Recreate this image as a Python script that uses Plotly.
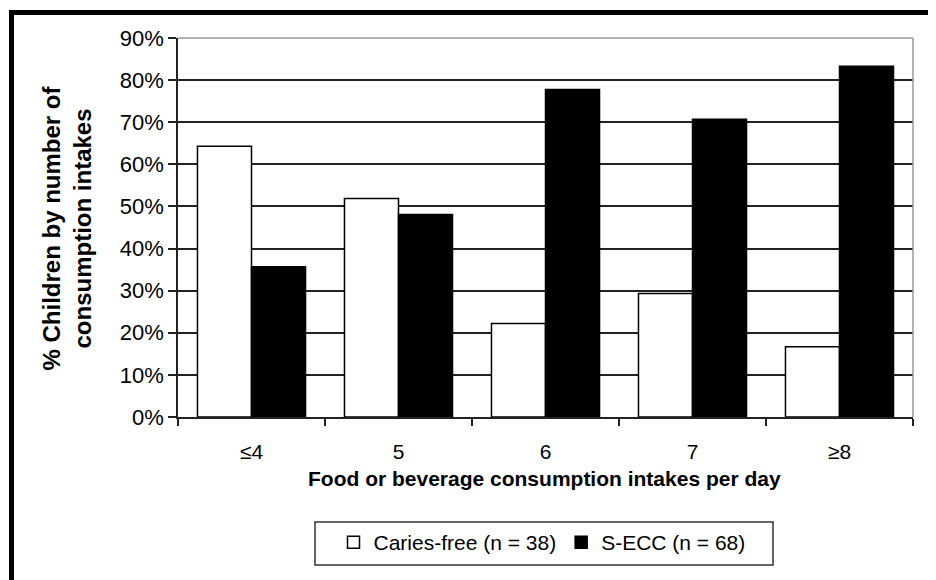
import plotly.graph_objects as go

categories = ["≤4", "5", "6", "7", "≥8"]
caries_free = [64.3, 51.9, 22.2, 29.3, 16.7]
s_ecc = [35.7, 48.1, 77.8, 70.7, 83.3]
series_names = ["Caries-free (n = 38)", "S-ECC (n = 68)"]
y_ticks = [0, 10, 20, 30, 40, 50, 60, 70, 80, 90]
y_tick_labels = [f"{v}%" for v in y_ticks]
x_title = "Food or beverage consumption intakes per day"
y_title = "% Children by number of<br>consumption intakes"

FONT = "Liberation Sans, Arial, Helvetica, sans-serif"

fig = go.Figure()
fig.add_trace(go.Bar(
    x=categories, y=caries_free, name=series_names[0],
    marker=dict(color="white", line=dict(color="black", width=1.5)),
))
fig.add_trace(go.Bar(
    x=categories, y=s_ecc, name=series_names[1],
    marker=dict(color="black", line=dict(color="black", width=1.5)),
))

# page has an 8px body margin; figure is placed at (8, 8)
W, H = 928, 572
L, T = 170, 30
PW, PH = 735, 379
R = W - L - PW
B = H - T - PH

# reference-page pixel -> paper coordinate helpers (plot area 178..913 x 38..417)
def px_x(p):
    return (p - 178) / PW


def px_y(p):
    return (417 - p) / PH


fig.update_layout(
    width=W, height=H,
    margin=dict(l=L, r=R, t=T, b=B, autoexpand=False),
    paper_bgcolor="white", plot_bgcolor="white",
    barmode="group", bargap=0.265, bargroupgap=0,
    font=dict(family=FONT, color="black", size=20),
    showlegend=True,
    legend=dict(
        orientation="h", x=px_x(542), xanchor="center", y=px_y(522), yanchor="top",
        borderwidth=0, bgcolor="rgba(0,0,0,0)",
        font=dict(size=21, family=FONT), traceorder="normal",
        itemwidth=30,
    ),
    xaxis=dict(
        type="category", automargin=False,
        showline=True, linecolor="#222", linewidth=1.5,
        ticks="outside", tickson="boundaries", ticklen=7, tickcolor="#222", tickwidth=1.5,
        tickfont=dict(size=21, family=FONT), ticklabelstandoff=15,
        showgrid=False,
    ),
    yaxis=dict(
        range=[0, 90], automargin=False,
        tickvals=y_ticks, ticktext=y_tick_labels,
        showline=True, linecolor="#222", linewidth=1.5,
        ticks="outside", ticklen=8, tickcolor="#222", tickwidth=1.5,
        tickfont=dict(size=22, family=FONT),
        showgrid=True, gridcolor="#222", gridwidth=1.5,
        zeroline=False,
    ),
    annotations=[
        dict(text=f"<b>{x_title}</b>", xref="paper", yref="paper",
             x=px_x(544), y=px_y(478), xanchor="center", yanchor="middle",
             showarrow=False, font=dict(size=21, family=FONT)),
        dict(text=f"<b>{y_title}</b>", xref="paper", yref="paper",
             x=px_x(66), y=0.5, xanchor="center", yanchor="middle", textangle=-90,
             showarrow=False, font=dict(size=24, family=FONT)),
    ],
    shapes=[
        # plot area frame (top and right, grey)
        dict(type="line", xref="paper", yref="paper", x0=0, x1=1, y0=1, y1=1,
             line=dict(color="#999", width=1.5)),
        dict(type="line", xref="paper", yref="paper", x0=1, x1=1, y0=0, y1=1,
             line=dict(color="#999", width=1.5)),
        # legend frame
        dict(type="rect", xref="paper", yref="paper",
             x0=px_x(315), x1=px_x(773), y0=px_y(565), y1=px_y(522),
             line=dict(color="#333", width=1.5), fillcolor="rgba(0,0,0,0)"),
        # outer thick black border (top and left)
        dict(type="line", xref="paper", yref="paper",
             x0=px_x(9), x1=px_x(945), y0=px_y(12.5), y1=px_y(12.5),
             line=dict(color="black", width=5)),
        dict(type="line", xref="paper", yref="paper",
             x0=px_x(11.5), x1=px_x(11.5), y0=px_y(10), y1=px_y(600),
             line=dict(color="black", width=5)),
    ],
)

fig.write_html("out.html")
